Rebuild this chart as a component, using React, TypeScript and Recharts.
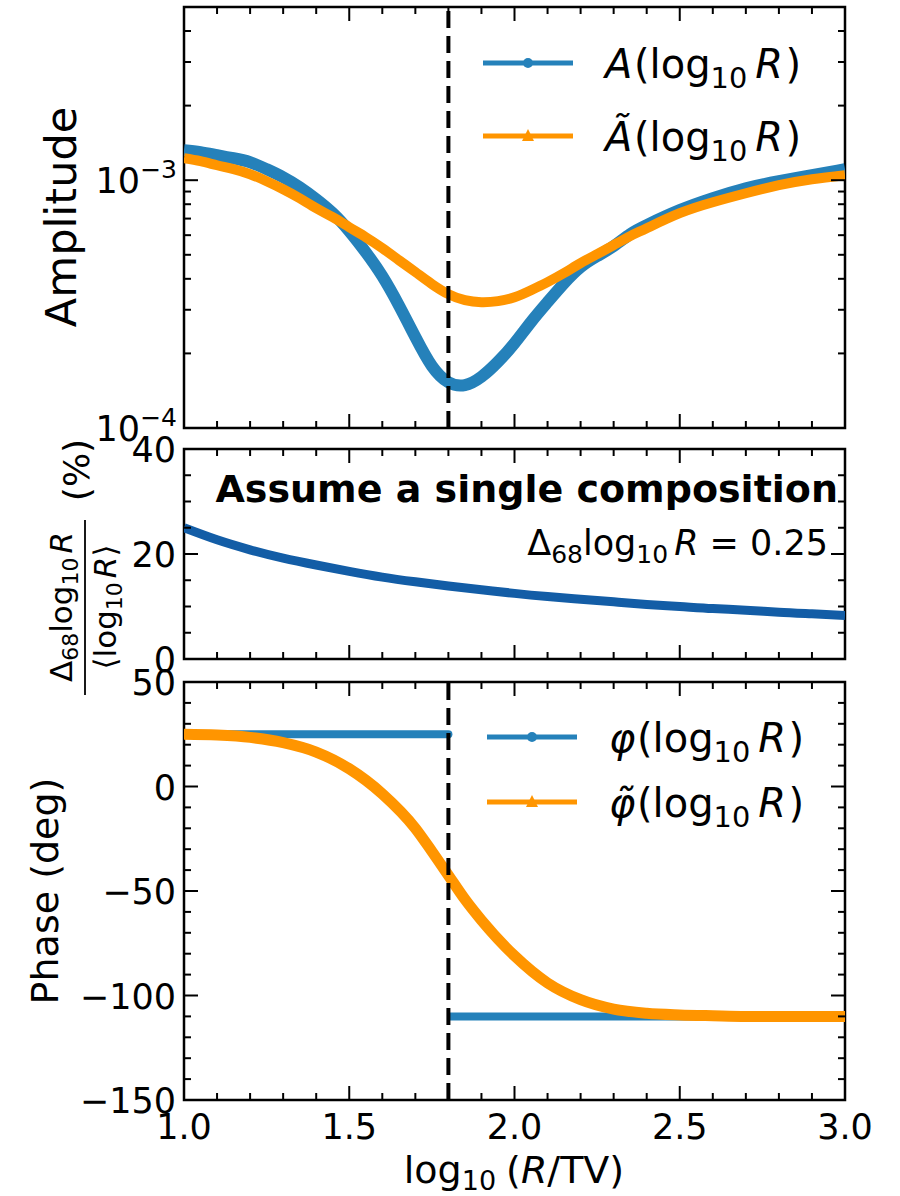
import { LineChart, Line, XAxis, YAxis, ReferenceLine, ReferenceArea } from 'recharts'

const FONT = '"DejaVu Sans", sans-serif'
const BLUE = '#2581ba'
const ORANGE = '#ff9500'
const DARK_BLUE = '#135da6'
const PLOT_L = 184
const PLOT_R = 845
const FS_TICK = 35
const FS_LABEL = 38

// shared x ticks (minor every 0.1, labelled every 0.5)
const xTicks = [1.0, 1.1, 1.2, 1.3, 1.4, 1.5, 1.6, 1.7, 1.8, 1.9, 2.0, 2.1, 2.2, 2.3, 2.4, 2.5, 2.6, 2.7, 2.8, 2.9, 3.0]
const xTickLabels = ['1.0', '1.5', '2.0', '2.5', '3.0']
const refX = 1.8

// amplitude panel (log scale)
const xAmp = [1.0, 1.05, 1.1, 1.15, 1.2, 1.25, 1.3, 1.35, 1.4, 1.45, 1.5, 1.55, 1.6, 1.65, 1.7, 1.75, 1.8, 1.85, 1.9, 1.95, 2.0, 2.05, 2.1, 2.15, 2.2, 2.25, 2.3, 2.35, 2.4, 2.5, 2.6, 2.7, 2.8, 2.9, 3.0]
const ampA = [1.321e-3, 1.297e-3, 1.261e-3, 1.226e-3, 1.182e-3, 1.108e-3, 1.028e-3, 9.37e-4, 8.38e-4, 7.36e-4, 6.23e-4, 5.12e-4, 4.1e-4, 3.13e-4, 2.33e-4, 1.78e-4, 1.53e-4, 1.49e-4, 1.61e-4, 1.85e-4, 2.2e-4, 2.68e-4, 3.22e-4, 3.84e-4, 4.46e-4, 4.94e-4, 5.42e-4, 6.06e-4, 6.59e-4, 7.57e-4, 8.46e-4, 9.28e-4, 9.91e-4, 1.048e-3, 1.108e-3]
const ampTilde = [1.226e-3, 1.193e-3, 1.149e-3, 1.108e-3, 1.057e-3, 9.91e-4, 9.2e-4, 8.46e-4, 7.71e-4, 7.09e-4, 6.46e-4, 5.89e-4, 5.32e-4, 4.76e-4, 4.26e-4, 3.81e-4, 3.47e-4, 3.28e-4, 3.22e-4, 3.25e-4, 3.37e-4, 3.6e-4, 3.88e-4, 4.22e-4, 4.63e-4, 5.03e-4, 5.47e-4, 5.95e-4, 6.4e-4, 7.36e-4, 8.15e-4, 8.86e-4, 9.55e-4, 1.009e-3, 1.048e-3]
const ampTicks = [1e-4, 2e-4, 3e-4, 4e-4, 5e-4, 6e-4, 7e-4, 8e-4, 9e-4, 1e-3, 2e-3, 3e-3, 4e-3, 5e-3]
const ampMajor = [1e-4, 1e-3]
const ampExp = ['−4', '−3']

// relative spread panel (%)
const xRel = [1.0, 1.1, 1.2, 1.3, 1.4, 1.5, 1.6, 1.7, 1.8, 1.9, 2.0, 2.1, 2.2, 2.3, 2.4, 2.5, 2.6, 2.7, 2.8, 2.9, 3.0]
const relSpread = [25.0, 22.7, 20.8, 19.2, 17.9, 16.7, 15.6, 14.7, 13.9, 13.2, 12.5, 11.9, 11.4, 10.9, 10.4, 10.0, 9.6, 9.3, 8.9, 8.6, 8.3]
const relTicks = [0, 5, 10, 15, 20, 25, 30, 35, 40]

// phase panel (deg)
const xPhase = [1.0, 1.1, 1.2, 1.3, 1.4, 1.5, 1.6, 1.7, 1.75, 1.8, 1.85, 1.9, 2.0, 2.1, 2.2, 2.3, 2.4, 2.5, 2.6, 2.7, 2.8, 2.9, 3.0]
const phiTilde = [25, 24.6, 23.5, 21, 16.5, 8.5, -3.5, -20, -31, -42.5, -54, -64, -81, -94, -102, -106.5, -108.5, -109.3, -109.7, -110, -110, -110, -110]
const phiBefore = [25, 25, 25, 25, 25, 25, 25, 25, 25, 25, null, null, null, null, null, null, null, null, null, null, null, null, null]
const phiAfter = [null, null, null, null, null, null, null, null, null, -110, -110, -110, -110, -110, -110, -110, -110, -110, -110, -110, -110, -110, -110]
const phaseTicks = [-150, -140, -130, -120, -110, -100, -90, -80, -70, -60, -50, -40, -30, -20, -10, 0, 10, 20, 30, 40, 50]

const ampData = xAmp.map((x, i) => ({ x, a: ampA[i], at: ampTilde[i] }))
const relData = xRel.map((x, i) => ({ x, r: relSpread[i] }))
const phaseData = xPhase.map((x, i) => ({ x, hi: phiBefore[i], lo: phiAfter[i], pt: phiTilde[i] }))

const near = (a: number, b: number) => Math.abs(a - b) < 1e-9 * Math.max(1, Math.abs(b))
const isMult = (v: number, step: number) => Math.abs(v / step - Math.round(v / step)) < 1e-6

const makeXTick = (top: number, bottom: number, labels: boolean) => (p: any) => {
  const v = p.payload.value
  const major = isMult(v, 0.5)
  const len = major ? 14 : 7
  const idx = Math.round((v - 1) / 0.5)
  return (
    <g>
      <line x1={p.x} x2={p.x} y1={bottom} y2={bottom - len} stroke="#000" strokeWidth={2} />
      <line x1={p.x} x2={p.x} y1={top} y2={top + len} stroke="#000" strokeWidth={2} />
      {labels && major && (
        <text x={p.x} y={bottom + 39} textAnchor="middle" fontSize={FS_TICK} fontFamily={FONT}>
          {xTickLabels[idx]}
        </text>
      )}
    </g>
  )
}

const makeYTick = (isMajor: (v: number) => boolean, label: (v: number) => any) => (p: any) => {
  const v = p.payload.value
  const major = isMajor(v)
  const len = major ? 14 : 7
  return (
    <g>
      <line x1={PLOT_L} x2={PLOT_L + len} y1={p.y} y2={p.y} stroke="#000" strokeWidth={2} />
      <line x1={PLOT_R} x2={PLOT_R - len} y1={p.y} y2={p.y} stroke="#000" strokeWidth={2} />
      {major && label(v)}
    </g>
  )
}

const numLabel = (y: number, txt: string) => (
  <text x={PLOT_L - 8} y={y} dy={13} textAnchor="end" fontSize={FS_TICK} fontFamily={FONT}>
    {txt}
  </text>
)

const ampTick = (p: any) =>
  makeYTick(
    (v) => ampMajor.some((m) => near(v, m)),
    (v) => (
      <text x={PLOT_L - 7} y={p.y} dy={13} textAnchor="end" fontSize={FS_TICK} fontFamily={FONT}>
        <tspan>10</tspan>
        <tspan dy={-15} fontSize={25}>{ampExp[near(v, 1e-4) ? 0 : 1]}</tspan>
      </text>
    ),
  )(p)

const relTick = (p: any) =>
  makeYTick(
    (v) => isMult(v, 20),
    (v) => numLabel(p.y, String(v)),
  )(p)

const phaseTick = (p: any) =>
  makeYTick(
    (v) => isMult(v, 50),
    (v) => numLabel(p.y, v < 0 ? '−' + Math.abs(v) : String(v)),
  )(p)

// italic symbol with "(log10 R)"
const mathArg = (sym: string, fs: number) => [
  <tspan key="s" fontStyle="italic">{sym}</tspan>,
  <tspan key="o" dx={fs * 0.04}>(log</tspan>,
  <tspan key="sub" dy={fs * 0.24} fontSize={fs * 0.72}>10</tspan>,
  <tspan key="r" dy={-fs * 0.24} dx={fs * 0.2} fontStyle="italic">R</tspan>,
  <tspan key="c" dx={fs * 0.06}>)</tspan>,
]

const legendBlock = (
  x0: number,
  rows: { y: number; color: string; marker: 'o' | '^'; sym: string }[],
) => (
  <g>
    {rows.map((r, i) => (
      <g key={i}>
        <line x1={x0} x2={x0 + 90} y1={r.y} y2={r.y} stroke={r.color} strokeWidth={5} />
        {r.marker === 'o' ? (
          <circle cx={x0 + 45} cy={r.y} r={5} fill={r.color} />
        ) : (
          <path d={`M ${x0 + 39} ${r.y + 5} L ${x0 + 51} ${r.y + 5} L ${x0 + 45} ${r.y - 7} Z`} fill={r.color} />
        )}
        <text x={x0 + 122} y={r.y + 15} fontSize={40} fontFamily={FONT}>
          {mathArg(r.sym, 40)}
        </text>
      </g>
    ))}
  </g>
)

const Panel = ({ top, height, children }: { top: number; height: number; children: any }) => (
  <div style={{ position: 'absolute', left: 0, top, width: 900, height }}>{children}</div>
)

// axes are 1px thick so that Recharts still draws them
const margins = (top: number, bottom: number, h: number) => ({
  top,
  right: 900 - PLOT_R,
  bottom: h - bottom - 1,
  left: PLOT_L - 1,
})

export default function App() {
  // chart A: page y 0..455, plot 7..428
  const aH = 455
  const aTop = 7
  const aBot = 428
  // chart B: page y 425..715, plot 449..659
  const bOff = 425
  const bH = 290
  const bTop = 449 - bOff
  const bBot = 659 - bOff
  // chart C: page y 660..1196, plot 682..1100
  const cOff = 660
  const cH = 536
  const cTop = 682 - cOff
  const cBot = 1100 - cOff

  return (
    <div style={{ position: 'absolute', left: 0, top: 0, width: 900, height: 1196, background: '#fff', fontFamily: FONT }}>
      <Panel top={0} height={aH}>
        <LineChart width={900} height={aH} data={ampData} margin={margins(aTop, aBot, aH)}>
          <XAxis
            dataKey="x"
            type="number"
            domain={[1, 3]}
            ticks={xTicks}
            interval={0}
            height={1}
            axisLine={false}
            tickLine={false}
            tickSize={0}
            allowDataOverflow
            tick={makeXTick(aTop, aBot, false)}
            label={{
              content: () => (
                <g>
                  <text transform={`translate(76, 217) rotate(-90)`} textAnchor="middle" fontSize={43} fontFamily={FONT}>
                    Amplitude
                  </text>
                  {legendBlock(483, [
                    { y: 63, color: BLUE, marker: 'o', sym: 'A' },
                    { y: 136, color: ORANGE, marker: '^', sym: 'A\u0303' },
                  ])}
                </g>
              ),
            }}
          />
          <YAxis
            type="number"
            scale="log"
            domain={[1e-4, 5e-3]}
            ticks={ampTicks}
            interval={0}
            width={1}
            axisLine={false}
            tickLine={false}
            tickSize={0}
            allowDataOverflow
            tick={ampTick}
          />
          <ReferenceArea x1={1} x2={3} y1={1e-4} y2={5e-3} fill="none" stroke="#000" strokeWidth={2.5} />
          <Line dataKey="a" type="natural" stroke={BLUE} strokeWidth={12} dot={false} isAnimationActive={false} />
          <Line dataKey="at" type="natural" stroke={ORANGE} strokeWidth={10} dot={false} isAnimationActive={false} />
          <ReferenceLine x={refX} stroke="#000" strokeWidth={4} strokeDasharray="17 8" />
        </LineChart>
      </Panel>

      <Panel top={bOff} height={bH}>
        <LineChart width={900} height={bH} data={relData} margin={margins(bTop, bBot, bH)}>
          <XAxis
            dataKey="x"
            type="number"
            domain={[1, 3]}
            ticks={xTicks}
            interval={0}
            height={1}
            axisLine={false}
            tickLine={false}
            tickSize={0}
            allowDataOverflow
            tick={makeXTick(bTop, bBot, false)}
            label={{
              content: () => (
                <g fontFamily={FONT}>
                  <text x={838} y={502 - bOff} textAnchor="end" fontSize={38} fontWeight="bold">
                    Assume a single composition
                  </text>
                  <text x={828} y={555 - bOff} textAnchor="end" fontSize={35}>
                    <tspan>Δ</tspan>
                    <tspan dy={8} fontSize={25}>68</tspan>
                    <tspan dy={-8}>log</tspan>
                    <tspan dy={8} fontSize={25}>10</tspan>
                    <tspan dy={-8} dx={6} fontStyle="italic">R</tspan>
                    <tspan> = 0.25</tspan>
                  </text>
                  <g transform={`translate(85, ${570 - bOff}) rotate(-90)`}>
                    <text x={-37} y={-13} textAnchor="middle" fontSize={31}>
                      <tspan>Δ</tspan>
                      <tspan dy={6} fontSize={22}>68</tspan>
                      <tspan dy={-6}>log</tspan>
                      <tspan dy={6} fontSize={22}>10</tspan>
                      <tspan dy={-6} dx={4} fontStyle="italic">R</tspan>
                    </text>
                    <line x1={-125} x2={50} y1={0} y2={0} stroke="#000" strokeWidth={1.8} />
                    <text x={-37} y={31} textAnchor="middle" fontSize={31}>
                      <tspan>⟨log</tspan>
                      <tspan dy={6} fontSize={22}>10</tspan>
                      <tspan dy={-6} dx={4} fontStyle="italic">R</tspan>
                      <tspan>⟩</tspan>
                    </text>
                    <text x={100} y={4} textAnchor="middle" fontSize={36}>
                      (%)
                    </text>
                  </g>
                </g>
              ),
            }}
          />
          <YAxis
            type="number"
            domain={[0, 40]}
            ticks={relTicks}
            interval={0}
            width={1}
            axisLine={false}
            tickLine={false}
            tickSize={0}
            allowDataOverflow
            tick={relTick}
          />
          <ReferenceArea x1={1} x2={3} y1={0} y2={40} fill="none" stroke="#000" strokeWidth={2.5} />
          <Line dataKey="r" type="natural" stroke={DARK_BLUE} strokeWidth={9} dot={false} isAnimationActive={false} />
        </LineChart>
      </Panel>

      <Panel top={cOff} height={cH}>
        <LineChart width={900} height={cH} data={phaseData} margin={margins(cTop, cBot, cH)}>
          <XAxis
            dataKey="x"
            type="number"
            domain={[1, 3]}
            ticks={xTicks}
            interval={0}
            height={1}
            axisLine={false}
            tickLine={false}
            tickSize={0}
            allowDataOverflow
            tick={makeXTick(cTop, cBot, true)}
            label={{
              content: () => (
                <g fontFamily={FONT}>
                  <text transform={`translate(58, ${891 - cOff}) rotate(-90)`} textAnchor="middle" fontSize={FS_LABEL}>
                    Phase (deg)
                  </text>
                  <text x={514} y={1183 - cOff} textAnchor="middle" fontSize={38}>
                    <tspan>log</tspan>
                    <tspan dy={7} fontSize={27}>10</tspan>
                    <tspan dy={-7} dx={10}>(</tspan>
                    <tspan fontStyle="italic">R</tspan>
                    <tspan>/TV)</tspan>
                  </text>
                  {legendBlock(487, [
                    { y: 737 - cOff, color: BLUE, marker: 'o', sym: 'φ' },
                    { y: 802 - cOff, color: ORANGE, marker: '^', sym: 'φ\u0303' },
                  ])}
                </g>
              ),
            }}
          />
          <YAxis
            type="number"
            domain={[-150, 50]}
            ticks={phaseTicks}
            interval={0}
            width={1}
            axisLine={false}
            tickLine={false}
            tickSize={0}
            allowDataOverflow
            tick={phaseTick}
          />
          <ReferenceArea x1={1} x2={3} y1={-150} y2={50} fill="none" stroke="#000" strokeWidth={2.5} />
          <Line dataKey="hi" type="linear" stroke={BLUE} strokeWidth={8} strokeLinecap="round" dot={false} connectNulls={false} isAnimationActive={false} />
          <Line dataKey="lo" type="linear" stroke={BLUE} strokeWidth={8} dot={false} connectNulls={false} isAnimationActive={false} />
          <Line dataKey="pt" type="monotone" stroke={ORANGE} strokeWidth={11} dot={false} isAnimationActive={false} />
          <ReferenceLine x={refX} stroke="#000" strokeWidth={4} strokeDasharray="17 8" />
        </LineChart>
      </Panel>
    </div>
  )
}
